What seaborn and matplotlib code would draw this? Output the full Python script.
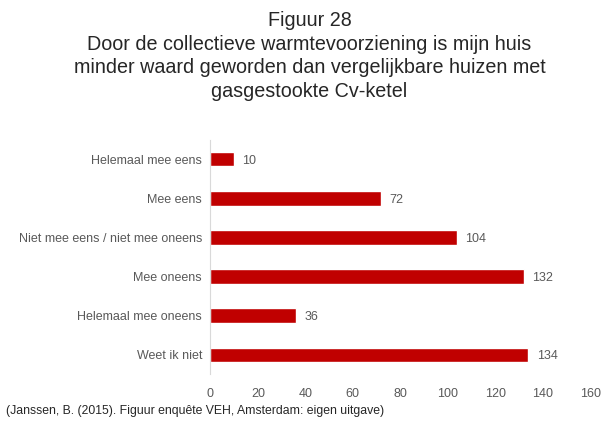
import matplotlib
matplotlib.use("Agg")
import matplotlib.pyplot as plt
import seaborn as sns
import pandas as pd

categories = ["Helemaal mee eens", "Mee eens", "Niet mee eens / niet mee oneens",
              "Mee oneens", "Helemaal mee oneens", "Weet ik niet"]
counts = [10, 72, 104, 132, 36, 134]
xticks = [0, 20, 40, 60, 80, 100, 120, 140, 160]

title = ("Figuur 28\nDoor de collectieve warmtevoorziening is mijn huis\n"
         "minder waard geworden dan vergelijkbare huizen met\ngasgestookte Cv-ketel")
source = "(Janssen, B. (2015). Figuur enquête VEH, Amsterdam: eigen uitgave)"

sns.set_style("white")
plt.rcParams['font.family'] = ['Liberation Sans', 'DejaVu Sans']

df = pd.DataFrame({"cat": categories, "n": counts})

fig = plt.figure(figsize=(6.01, 4.23), dpi=100)
ax = fig.add_axes([0.350, 0.115, 0.632, 0.555])
sns.barplot(data=df, y="cat", x="n", orient="h", color="#C00000",
            saturation=1, width=0.37, ax=ax)

grey = "#595959"
for i, v in enumerate(counts):
    ax.text(v + 3.5, i, str(v), va="center_baseline", ha="left", fontsize=9, color=grey)

ax.set_xlim(0, 160)
ax.set_xticks(xticks)
ax.set_xlabel("")
ax.set_ylabel("")
ax.tick_params(axis="both", length=0, labelsize=9, colors=grey, pad=6)
ax.tick_params(axis="x", pad=10)
for s in ["top", "right", "bottom"]:
    ax.spines[s].set_visible(False)
ax.spines["left"].set_color("#D9D9D9")

fig.text(0.515, 0.762, title, ha="center", va="bottom", fontsize=14.2,
         color="#262626", linespacing=1.3)
fig.text(0.01, 0.028, source, ha="left", va="center", fontsize=8.8, color="#262626")

fig.savefig("out.png", dpi=100)
